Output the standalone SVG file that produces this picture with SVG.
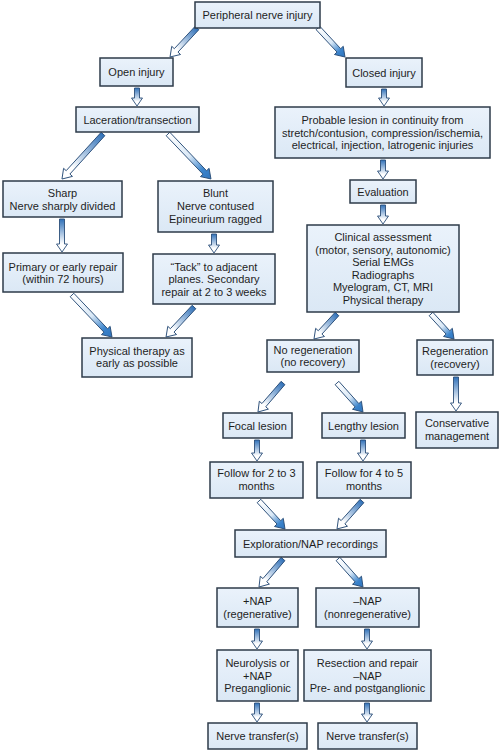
<svg xmlns="http://www.w3.org/2000/svg" width="499" height="750" viewBox="0 0 499 750">
<defs>
<linearGradient id="boxg" x1="0" y1="0" x2="0" y2="1">
<stop offset="0" stop-color="#eaf2fb"/><stop offset="1" stop-color="#dbe8f5"/>
</linearGradient>
<linearGradient id="gA" x1="0" y1="0" x2="1" y2="0">
<stop offset="0" stop-color="#2f70b8"/><stop offset="0.75" stop-color="#ffffff"/><stop offset="1" stop-color="#ffffff"/>
</linearGradient>
<linearGradient id="gB" x1="0" y1="0" x2="1" y2="0">
<stop offset="0" stop-color="#ffffff"/><stop offset="0.5" stop-color="#d9e8f6"/><stop offset="0.8" stop-color="#3b84cc"/><stop offset="1" stop-color="#2f74bd"/>
</linearGradient>
</defs>
<style>
.box{fill:url(#boxg);stroke:#2e3b4a;stroke-width:1.5}
text{font-family:"Liberation Sans",Arial,sans-serif;font-size:11px;fill:#1e1e1e;text-anchor:middle}
.a{fill:url(#gA);stroke:#2b4e78;stroke-width:0.9;stroke-linejoin:miter}
.b{fill:url(#gB);stroke:#2b4e78;stroke-width:0.9;stroke-linejoin:miter}
</style>
<rect width="499" height="750" fill="#ffffff"/>
<g id="connectors">
<polygon class="a" transform="translate(197,28) rotate(132.95)" points="0,-2.5 30.6,-2.5 30.6,-6 39.6,0 30.6,6 30.6,2.5 0,2.5"/>
<polygon class="b" transform="translate(318,28) rotate(47.05)" points="0,-2.5 30.6,-2.5 30.6,-6 39.6,0 30.6,6 30.6,2.5 0,2.5"/>
<polygon class="a" transform="translate(137,88) rotate(90)" points="0,-2.5 10,-2.5 10,-5.5 18,0 10,5.5 10,2.5 0,2.5"/>
<polygon class="a" transform="translate(384,89) rotate(90)" points="0,-2.5 9,-2.5 9,-5.5 17,0 9,5.5 9,2.5 0,2.5"/>
<polygon class="a" transform="translate(103,134) rotate(132.34)" points="0,-2.5 51.9,-2.5 51.9,-6 60.9,0 51.9,6 51.9,2.5 0,2.5"/>
<polygon class="b" transform="translate(168,134) rotate(46.3)" points="0,-2.5 53.2,-2.5 53.2,-6 62.2,0 53.2,6 53.2,2.5 0,2.5"/>
<polygon class="a" transform="translate(62,219) rotate(90)" points="0,-2.5 25,-2.5 25,-5.5 33,0 25,5.5 25,2.5 0,2.5"/>
<polygon class="a" transform="translate(214,234) rotate(90)" points="0,-2.5 11,-2.5 11,-5.5 19,0 11,5.5 11,2.5 0,2.5"/>
<polygon class="b" transform="translate(72,295) rotate(46.4)" points="0,-2.5 49,-2.5 49,-6 58,0 49,6 49,2.5 0,2.5"/>
<polygon class="a" transform="translate(194,307) rotate(133)" points="0,-2.5 32,-2.5 32,-6 41,0 32,6 32,2.5 0,2.5"/>
<polygon class="a" transform="translate(383,160) rotate(90)" points="0,-2.5 11,-2.5 11,-5.5 19,0 11,5.5 11,2.5 0,2.5"/>
<polygon class="a" transform="translate(383,205) rotate(90)" points="0,-2.5 11,-2.5 11,-5.5 19,0 11,5.5 11,2.5 0,2.5"/>
<polygon class="a" transform="translate(337,314) rotate(132.6)" points="0,-2.5 25,-2.5 25,-6 34,0 25,6 25,2.5 0,2.5"/>
<polygon class="b" transform="translate(431,314) rotate(47.4)" points="0,-2.5 25,-2.5 25,-6 34,0 25,6 25,2.5 0,2.5"/>
<polygon class="a" transform="translate(283,383) rotate(130.8)" points="0,-2.5 29.3,-2.5 29.3,-6 38.3,0 29.3,6 29.3,2.5 0,2.5"/>
<polygon class="b" transform="translate(337,383) rotate(48.1)" points="0,-2.5 29.9,-2.5 29.9,-6 38.9,0 29.9,6 29.9,2.5 0,2.5"/>
<polygon class="a" transform="translate(456,377) rotate(90)" points="0,-2.5 26,-2.5 26,-5.5 34,0 26,5.5 26,2.5 0,2.5"/>
<polygon class="a" transform="translate(257,440) rotate(90)" points="0,-2.5 13,-2.5 13,-5.5 21,0 13,5.5 13,2.5 0,2.5"/>
<polygon class="a" transform="translate(363,440) rotate(90)" points="0,-2.5 13,-2.5 13,-5.5 21,0 13,5.5 13,2.5 0,2.5"/>
<polygon class="b" transform="translate(259,501) rotate(47.1)" points="0,-2.5 29.2,-2.5 29.2,-6 38.2,0 29.2,6 29.2,2.5 0,2.5"/>
<polygon class="a" transform="translate(362,501) rotate(131.8)" points="0,-2.5 28.5,-2.5 28.5,-6 37.5,0 28.5,6 28.5,2.5 0,2.5"/>
<polygon class="a" transform="translate(283,559) rotate(130.6)" points="0,-2.5 27.9,-2.5 27.9,-6 36.9,0 27.9,6 27.9,2.5 0,2.5"/>
<polygon class="b" transform="translate(338,559) rotate(48.2)" points="0,-2.5 28.5,-2.5 28.5,-6 37.5,0 28.5,6 28.5,2.5 0,2.5"/>
<polygon class="a" transform="translate(257,629) rotate(90)" points="0,-2.5 12,-2.5 12,-5.5 20,0 12,5.5 12,2.5 0,2.5"/>
<polygon class="a" transform="translate(367,629) rotate(90)" points="0,-2.5 12,-2.5 12,-5.5 20,0 12,5.5 12,2.5 0,2.5"/>
<polygon class="a" transform="translate(257,703) rotate(90)" points="0,-2.5 11,-2.5 11,-5.5 19,0 11,5.5 11,2.5 0,2.5"/>
<polygon class="a" transform="translate(367,703) rotate(90)" points="0,-2.5 11,-2.5 11,-5.5 19,0 11,5.5 11,2.5 0,2.5"/>
</g>
<g id="n-peripheral"><rect class="box" x="195" y="2" width="125" height="26"/><text x="257.5" y="19">Peripheral nerve injury</text></g>
<g id="n-open"><rect class="box" x="100" y="58" width="73" height="28"/><text x="136.5" y="76">Open injury</text></g>
<g id="n-closed"><rect class="box" x="346" y="58" width="76" height="29"/><text x="384" y="76.5">Closed injury</text></g>
<g id="n-laceration"><rect class="box" x="76" y="107" width="123" height="25"/><text x="137.5" y="123.5">Laceration/transection</text></g>
<g id="n-probable"><rect class="box" x="275" y="107" width="215" height="51"/><text x="382.5" y="124">Probable lesion in continuity from</text><text x="382.5" y="136.5">stretch/contusion, compression/ischemia,</text><text x="382.5" y="149">electrical, injection, latrogenic injuries</text></g>
<g id="n-evaluation"><rect class="box" x="350" y="180" width="66" height="23"/><text x="383" y="195.5">Evaluation</text></g>
<g id="n-clinical"><rect class="box" x="307" y="225" width="152" height="87"/><text x="383" y="241">Clinical assessment</text><text x="383" y="253.5">(motor, sensory, autonomic)</text><text x="383" y="266">Serial EMGs</text><text x="383" y="278.5">Radiographs</text><text x="383" y="291">Myelogram, CT, MRI</text><text x="383" y="303.5">Physical therapy</text></g>
<g id="n-sharp"><rect class="box" x="3" y="181" width="119" height="36"/><text x="62.5" y="197">Sharp</text><text x="62.5" y="210">Nerve sharply divided</text></g>
<g id="n-blunt"><rect class="box" x="158" y="181" width="115" height="51"/><text x="215.5" y="197">Blunt</text><text x="215.5" y="210">Nerve contused</text><text x="215.5" y="223">Epineurium ragged</text></g>
<g id="n-primary"><rect class="box" x="3" y="253" width="120" height="39"/><text x="63" y="270.5">Primary or early repair</text><text x="63" y="283">(within 72 hours)</text></g>
<g id="n-tack"><rect class="box" x="153" y="254" width="122" height="50"/><text x="214" y="270.5">“Tack” to adjacent</text><text x="214" y="283">planes. Secondary</text><text x="214" y="295.5">repair at 2 to 3 weeks</text></g>
<g id="n-physical"><rect class="box" x="82" y="338" width="110" height="39"/><text x="137" y="354.5">Physical therapy as</text><text x="137" y="366.5">early as possible</text></g>
<g id="n-noregen"><rect class="box" x="267" y="340" width="92" height="32"/><text x="313" y="353.5">No regeneration</text><text x="313" y="366">(no recovery)</text></g>
<g id="n-regen"><rect class="box" x="417" y="340" width="76" height="35"/><text x="455" y="355">Regeneration</text><text x="455" y="367.5">(recovery)</text></g>
<g id="n-focal"><rect class="box" x="223" y="413" width="69" height="25"/><text x="257.5" y="429.5">Focal lesion</text></g>
<g id="n-lengthy"><rect class="box" x="322" y="413" width="83" height="25"/><text x="363.5" y="429.5">Lengthy lesion</text></g>
<g id="n-conservative"><rect class="box" x="416" y="412" width="82" height="36"/><text x="457" y="427">Conservative</text><text x="457" y="439.5">management</text></g>
<g id="n-follow23"><rect class="box" x="210" y="462" width="93" height="36"/><text x="256.5" y="477">Follow for 2 to 3</text><text x="256.5" y="489.5">months</text></g>
<g id="n-follow45"><rect class="box" x="317" y="462" width="94" height="36"/><text x="364" y="477">Follow for 4 to 5</text><text x="364" y="489.5">months</text></g>
<g id="n-exploration"><rect class="box" x="235" y="530" width="151" height="27"/><text x="310.5" y="547.5">Exploration/NAP recordings</text></g>
<g id="n-plusnap"><rect class="box" x="217" y="588" width="81" height="39"/><text x="257.5" y="605">+NAP</text><text x="257.5" y="617.5">(regenerative)</text></g>
<g id="n-minusnap"><rect class="box" x="316" y="588" width="103" height="39"/><text x="367.5" y="605">–NAP</text><text x="367.5" y="617.5">(nonregenerative)</text></g>
<g id="n-neurolysis"><rect class="box" x="217" y="650" width="81" height="51"/><text x="257.5" y="667">Neurolysis or</text><text x="257.5" y="679.5">+NAP</text><text x="257.5" y="692">Preganglionic</text></g>
<g id="n-resection"><rect class="box" x="304" y="650" width="127" height="51"/><text x="367.5" y="667">Resection and repair</text><text x="367.5" y="679.5">–NAP</text><text x="367.5" y="692">Pre- and postganglionic</text></g>
<g id="n-transfer1"><rect class="box" x="208" y="723" width="99" height="26"/><text x="257.5" y="740">Nerve transfer(s)</text></g>
<g id="n-transfer2"><rect class="box" x="318" y="723" width="99" height="26"/><text x="367.5" y="740">Nerve transfer(s)</text></g>
</svg>
